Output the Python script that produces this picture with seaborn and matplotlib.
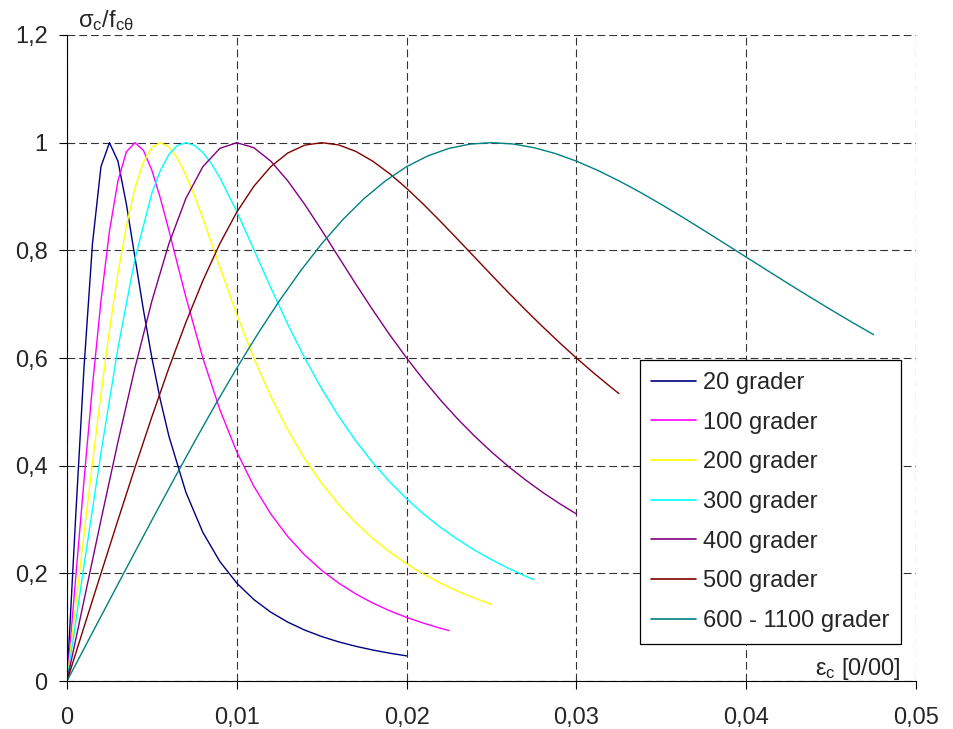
import matplotlib
matplotlib.use("Agg")
import matplotlib.pyplot as plt
import pandas as pd
import seaborn as sns

# ---- data (strain, normalized stress) ----
eps_20 = [0, .0005, .001, .0015, .002, .0025, .003, .0035, .004, .0045, .005, .0055, .006,
          .007, .008, .009, .010, .011, .012, .013, .014, .015, .016, .017, .018, .019, .020]
sig_20 = [0, .2988, .5814, .8123, .9554, 1.0, .9657, .8853, .7874, .6895, .6, .5218, .4550,
          .3507, .2761, .2220, .1818, .1514, .1279, .1094, .0946, .0826, .0727, .0645, .0576, .0517, .0467]

eps_100 = [0, .0005, .001, .0015, .002, .0025, .003, .0035, .004, .0045, .005, .0055, .006, .0065,
           .007, .008, .009, .010, .011, .012, .013, .014, .015, .016, .017, .018, .019, .020,
           .021, .022, .0225]
sig_100 = [0, .1873, .3721, .5480, .7059, .8355, .9290, .9832, 1.0, .9857, .9486, .8968, .8372, .7749,
           .7134, .6, .5041, .4255, .3619, .3103, .2684, .2340, .2055, .1818, .1619, .1450, .1305, .1181,
           .1074, .0980, .0938]

eps_200 = [0, .0005, .001, .0015, .002, .0025, .003, .0035, .004, .0045, .005, .0055, .006, .0065,
           .007, .0075, .008, .009, .010, .011, .012, .013, .014, .015, .016, .017, .018, .019,
           .020, .021, .022, .023, .024, .025]
sig_200 = [0, .1363, .2719, .4050, .5326, .6512, .7568, .8456, .9149, .9634, .9913, 1.0, .9923, .9712,
           .9401, .9019, .8595, .7692, .6809, .6, .5285, .4664, .4129, .3671, .3279, .2941, .2650, .2398,
           .2178, .1986, .1818, .1670, .1539, .1422]

eps_300 = [0, .001, .002, .003, .004, .005, .0055, .006, .0065, .007, .0075, .008, .0085, .009,
           .010, .011, .012, .013, .014, .015, .016, .017, .018, .019, .020, .021, .022, .023,
           .024, .025, .026, .027, .0275]
sig_300 = [0, .2140, .4236, .6185, .7840, .9063, .9485, .9778, .9947, 1.0, .9951, .9816, .9611, .9350,
           .8719, .8017, .7307, .6628, .6, .5430, .4918, .4463, .4060, .3702, .3385, .3103, .2853, .2631,
           .2431, .2253, .2093, .1949, .1882]

eps_400 = [0, .001, .002, .003, .004, .005, .006, .007, .008, .009, .010, .011, .012, .013, .014,
           .015, .016, .017, .018, .019, .020, .021, .022, .023, .024, .025, .026, .027, .028,
           .029, .030]
sig_400 = [0, .1499, .2988, .4440, .5814, .7059, .8123, .8963, .9554, .9894, 1.0, .9907, .9657, .9292,
           .8853, .8372, .7874, .7377, .6895, .6434, .6, .5595, .5218, .4870, .4550, .4255, .3984, .3736,
           .3507, .3297, .3103]

eps_500 = [0, .001, .002, .003, .004, .005, .006, .007, .008, .009, .010, .011, .012, .013, .014,
           .015, .016, .017, .018, .019, .020, .021, .022, .023, .024, .025, .026, .027, .028,
           .029, .030, .031, .032, .0325]
sig_500 = [0, .1000, .1998, .2988, .3962, .4909, .5814, .6661, .7436, .8123, .8710, .9188, .9554, .9808,
           .9954, 1.0, .9958, .9839, .9657, .9424, .9153, .8853, .8535, .8207, .7874, .7542, .7214, .6895,
           .6585, .6286, .6, .5726, .5466, .5340]

eps_600 = [0, .00125, .0025, .00375, .005, .00625, .0075, .00875, .010, .01125, .0125, .01375, .015,
           .01625, .0175, .01875, .020, .02125, .0225, .02375, .025, .02625, .0275, .02875, .030,
           .03125, .0325, .03375, .035, .03625, .0375, .03875, .040, .04125, .0425, .04375, .045,
           .04625, .0475]
sig_600 = [0, .0750, .1499, .2246, .2988, .3721, .4440, .5140, .5814, .6456, .7059, .7616, .8123,
           .8573, .8963, .9290, .9554, .9755, .9894, .9974, 1.0, .9976, .9907, .9799, .9657,
           .9486, .9292, .9080, .8853, .8616, .8372, .8124, .7874, .7625, .7377, .7134, .6895,
           .6661, .6434]

series_names = ["20 grader", "100 grader", "200 grader", "300 grader",
                "400 grader", "500 grader", "600 - 1100 grader"]
series_eps = [eps_20, eps_100, eps_200, eps_300, eps_400, eps_500, eps_600]
series_sig = [sig_20, sig_100, sig_200, sig_300, sig_400, sig_500, sig_600]
series_colors = ["#000080", "#FF00FF", "#FFFF00", "#00FFFF", "#800080", "#800000", "#008080"]

x_ticks = [0, 0.01, 0.02, 0.03, 0.04, 0.05]
x_tick_labels = ["0", "0,01", "0,02", "0,03", "0,04", "0,05"]
y_ticks = [0, 0.2, 0.4, 0.6, 0.8, 1.0, 1.2]
y_tick_labels = ["0", "0,2", "0,4", "0,6", "0,8", "1", "1,2"]

rows = []
for name, ex, sx in zip(series_names, series_eps, series_sig):
    for i, (e, s) in enumerate(zip(ex, sx)):
        rows.append({"series": name, "order": i, "eps": e, "sig": s})
df = pd.DataFrame(rows)

# ---- styling ----
sns.set_theme(style="ticks")
plt.rcParams["font.family"] = ["Liberation Sans", "DejaVu Sans"]
plt.rcParams["mathtext.fontset"] = "custom"
plt.rcParams["mathtext.rm"] = "Liberation Sans"
plt.rcParams["mathtext.it"] = "Liberation Sans:italic"

FS = 17
fig = plt.figure(figsize=(9.54, 7.29), dpi=100)
fig.patch.set_facecolor("white")
ax = fig.add_axes([67 / 954, 1 - 681 / 729, (916 - 67) / 954, (681 - 35) / 729])
ax.set_facecolor("white")

sns.lineplot(data=df, x="eps", y="sig", hue="series", hue_order=series_names,
             palette=dict(zip(series_names, series_colors)), sort=False,
             estimator=None, units="series", linewidth=1.0, ax=ax, legend=True)

ax.set_xlim(0, 0.05)
ax.set_ylim(0, 1.2)
ax.set_xticks(x_ticks)
ax.set_xticklabels(x_tick_labels, fontsize=FS)
ax.set_yticks(y_ticks)
ax.set_yticklabels(y_tick_labels, fontsize=FS)
ax.tick_params(axis="x", direction="out", length=6, width=0.8, color="black", pad=13)
ax.tick_params(axis="y", direction="out", length=6, width=0.8, color="black", pad=8)
ax.set_xlabel("")
ax.set_ylabel("")

ax.grid(True, color="#333333", linestyle=(0, (7, 3.6)), linewidth=0.8)
ax.set_axisbelow(True)
for sp in ["top", "right"]:
    ax.spines[sp].set_visible(False)
for sp in ["left", "bottom"]:
    ax.spines[sp].set_color("black")
    ax.spines[sp].set_linewidth(0.8)
    ax.spines[sp].set_zorder(3)

handles, labels = ax.get_legend_handles_labels()
leg = ax.legend(handles, labels, loc="upper right",
                bbox_to_anchor=((901 - 67) / 849, (681 - 360) / 646),
                borderaxespad=0, fontsize=FS, frameon=True, fancybox=False,
                framealpha=1, edgecolor="black", handlelength=1.9,
                handletextpad=0.28, labelspacing=0.75, borderpad=0.5)
leg.get_frame().set_linewidth(0.9)
for lh in leg.get_lines():
    lh.set_linewidth(1.2)

fig.text(78 / 954, 1 - 27 / 729,
         r"σ$_\mathregular{c}$/f$_\mathregular{cθ}$", fontsize=FS, ha="left", va="baseline")
ax.text(0.982, (681 - 675) / 646, r"ε$_\mathregular{c}$ [0/00]", transform=ax.transAxes,
        fontsize=FS, ha="right", va="baseline")

fig.savefig("out.png", dpi=100, facecolor="white")
